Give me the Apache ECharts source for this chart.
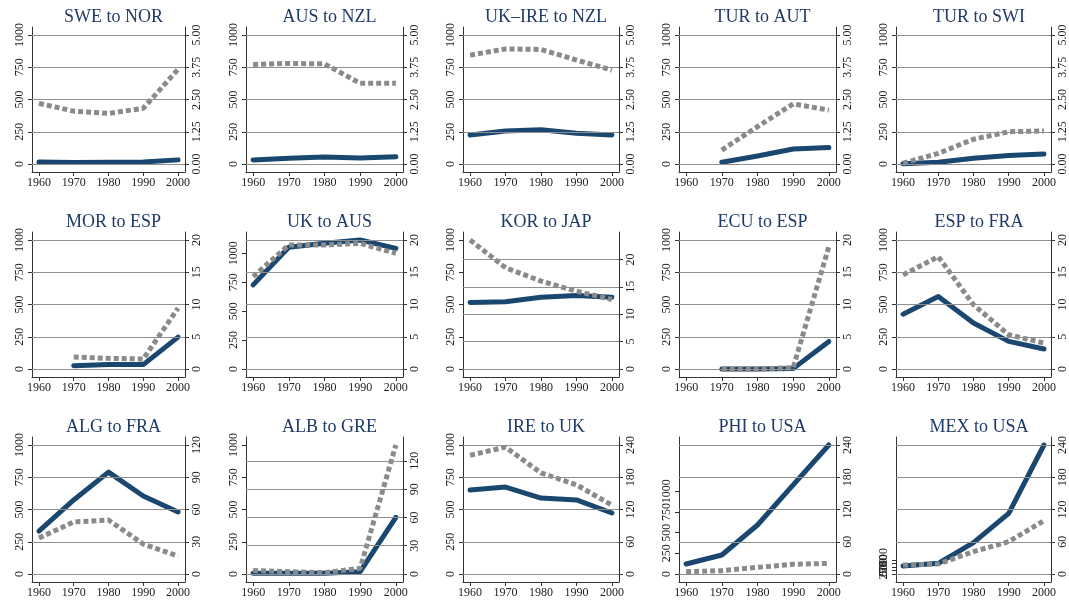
<!DOCTYPE html>
<html>
<head>
<meta charset="utf-8">
<script src="https://cdn.jsdelivr.net/npm/echarts@6/dist/echarts.min.js"></script>
<style>
html,body{margin:0;padding:0;background:#fff;}
#chart{width:1069px;height:603px;}
</style>
</head>
<body>
<div id="chart"></div>
<script>
// ---- data ----
const years = [1960, 1970, 1980, 1990, 2000];
const leftTicks = [0, 250, 500, 750, 1000];
const rightTicksA = [0, 1.25, 2.5, 3.75, 5];
const rightTicksB = [0, 5, 10, 15, 20];
const rightTicksC = [0, 30, 60, 90, 120];
const rightTicksD = [0, 60, 120, 180, 240];

const titles = ['SWE to NOR', 'AUS to NZL', 'UK\u2013IRE to NZL', 'TUR to AUT', 'TUR to SWI',
                'MOR to ESP', 'UK to AUS', 'KOR to JAP', 'ECU to ESP', 'ESP to FRA',
                'ALG to FRA', 'ALB to GRE', 'IRE to UK', 'PHI to USA', 'MEX to USA'];

const sweNorStock = [15, 12, 13, 16, 32];
const sweNorRate  = [2.35, 2.05, 1.96, 2.16, 3.67];
const ausNzlStock = [31, 44, 54, 47, 57];
const ausNzlRate  = [3.86, 3.90, 3.88, 3.13, 3.13];
const ukIreNzlStock = [225, 256, 266, 238, 225];
const ukIreNzlRate  = [4.22, 4.46, 4.44, 4.03, 3.64];
const turAutStock = [null, 13, 62, 116, 127];
const turAutRate  = [null, 0.54, 1.45, 2.33, 2.09];
const turSwiStock = [2, 13, 44, 65, 78];
const turSwiRate  = [0.03, 0.41, 0.96, 1.25, 1.28];

const morEspStock = [null, 26, 34, 34, 247];
const morEspRate  = [null, 1.86, 1.65, 1.55, 9.43];
const ukAusStock = [727, 1052, 1086, 1115, 1043];
const ukAusRate  = [14.33, 19.23, 19.23, 19.48, 17.94];
const korJapStock = [515, 521, 557, 570, 557];
const korJapRate  = [23.54, 18.48, 16.04, 14.2, 12.68];
const ecuEspStock = [null, 0, 0, 3, 214];
const ecuEspRate  = [null, 0, 0, 0.2, 18.97];
const espFraStock = [425, 562, 356, 214, 155];
const espFraRate  = [14.59, 17.42, 9.95, 5.31, 4.02];

const algFraStock = [333, 574, 790, 605, 481];
const algFraRate  = [33.5, 48.4, 50.2, 27.9, 16.7];
const albGreStock = [5, 5, 5, 18, 439];
const albGreRate  = [3.6, 2.5, 1.4, 6.1, 136.8];
const ireUkStock = [651, 674, 589, 574, 473];
const ireUkRate  = [221, 236, 188, 166, 128];
const phiUsaStock = [121, 230, 593, 1077, 1560];
const phiUsaRate  = [4.3, 6.2, 12.4, 18, 19.8];
const mexUsaStock = [571, 759, 2235, 4328, 9200];
const mexUsaRate  = [16.7, 18.6, 41.6, 60.2, 99.2];

const stocks = [sweNorStock, ausNzlStock, ukIreNzlStock, turAutStock, turSwiStock,
                morEspStock, ukAusStock, korJapStock, ecuEspStock, espFraStock,
                algFraStock, albGreStock, ireUkStock, phiUsaStock, mexUsaStock];
const rates = [sweNorRate, ausNzlRate, ukIreNzlRate, turAutRate, turSwiRate,
               morEspRate, ukAusRate, korJapRate, ecuEspRate, espFraRate,
               algFraRate, albGreRate, ireUkRate, phiUsaRate, mexUsaRate];
const rightTicks = [rightTicksA, rightTicksA, rightTicksA, rightTicksA, rightTicksA,
                    rightTicksB, rightTicksB, rightTicksB, rightTicksB, rightTicksB,
                    rightTicksC, rightTicksC, rightTicksD, rightTicksD, rightTicksD];

// ---- layout ----
const cols = [[32, 185], [246, 403], [463, 619], [679, 836], [896, 1052]];
const rowTops = [27, 232, 437];
const gridH = 145;
const padPx = 8;
const dataPx = gridH - 2 * padPx;

const NAVY = '#1a476f';
const GRAY = '#8a8a8a';
const FONT = 'Liberation Serif';
const labelStyle = {fontFamily: FONT, fontSize: 12, color: '#222',
                    hideOverlap: false, showMinLabel: true, showMaxLabel: true};
const axisLineStyle = {color: '#333', width: 1};

const grids = [], xAxes = [], yAxes = [], series = [], titleArr = [];

for (let i = 0; i < 15; i++) {
  const r = Math.floor(i / 5), c = i % 5;
  const [x0, x1] = cols[c];
  const top = rowTops[r];
  grids.push({left: x0, top: top, width: x1 - x0, height: gridH, containLabel: false});
  titleArr.push({
    text: titles[i], left: (x0 + x1) / 2, top: top - 24, textAlign: 'center',
    textStyle: {fontFamily: FONT, fontSize: 18, fontWeight: 'normal', color: '#1f3a68'}
  });
  const vals = (a) => a.filter(v => v !== null);
  const dL = Math.max(leftTicks[leftTicks.length - 1], ...vals(stocks[i]));
  const rt = rightTicks[i];
  const dR = Math.max(rt[rt.length - 1], ...vals(rates[i]));
  const pL = dL * padPx / dataPx, pR = dR * padPx / dataPx;
  const dec = rt === rightTicksA ? 2 : 0;

  xAxes.push({
    type: 'value', gridIndex: i, min: 1958, max: 2002,
    axisLine: {show: true, onZero: false, lineStyle: axisLineStyle},
    axisTick: {show: true, length: 4, customValues: years, lineStyle: {color: '#333'}},
    axisLabel: Object.assign({customValues: years, margin: 5, formatter: v => String(v)}, labelStyle),
    splitLine: {show: false}
  });

  // left axis: if labels are crowded, each tick gets its own overlaid axis so none is dropped
  const groups = dL > 1200 ? leftTicks.map(v => [v]) : [leftTicks];
  const leftIdx = yAxes.length;
  groups.forEach((g, gi) => {
    yAxes.push({
      type: 'value', gridIndex: i, position: 'left', min: -pL, max: dL + pL,
      axisLine: {show: gi === 0, onZero: false, lineStyle: axisLineStyle},
      axisTick: {show: true, length: 4, customValues: g, lineStyle: {color: '#333'}},
      axisLabel: Object.assign({customValues: g, rotate: 90, margin: 6, formatter: v => String(Math.round(v))}, labelStyle),
      splitLine: {show: false}
    });
  });
  const rightIdx = yAxes.length;
  yAxes.push({
    type: 'value', gridIndex: i, position: 'right', min: -pR, max: dR + pR,
    axisLine: {show: true, onZero: false, lineStyle: axisLineStyle},
    axisTick: {show: true, length: 4, customValues: rt, lineStyle: {color: '#333'}},
    axisLabel: Object.assign({customValues: rt, rotate: 90, margin: 6, formatter: v => v.toFixed(dec)}, labelStyle),
    splitLine: {show: false}
  });
  // gridlines at right-axis ticks
  series.push({
    type: 'line', xAxisIndex: i, yAxisIndex: rightIdx, z: 1,
    data: years.map((y, k) => [y, rates[i][k]]),
    symbol: 'none', lineStyle: {opacity: 0}, silent: true,
    markLine: {
      silent: true, symbol: ['none', 'none'], label: {show: false},
      lineStyle: {type: 'solid', color: '#8f8f8f', width: 1},
      data: rt.map(v => ({yAxis: v}))
    }
  });
  series.push({
    type: 'line', xAxisIndex: i, yAxisIndex: leftIdx, z: 3,
    data: years.map((y, k) => [y, stocks[i][k]]),
    symbol: 'none', connectNulls: false,
    lineStyle: {color: NAVY, width: 5, cap: 'round', join: 'round'}
  });
  series.push({
    type: 'line', xAxisIndex: i, yAxisIndex: rightIdx, z: 4,
    data: years.map((y, k) => [y, rates[i][k]]),
    symbol: 'none', connectNulls: false,
    lineStyle: {color: GRAY, width: 5, type: [5, 3], cap: 'butt'}
  });
}

const chart = echarts.init(document.getElementById('chart'), null, {renderer: 'canvas'});
chart.setOption({
  animation: false,
  backgroundColor: '#fff',
  title: titleArr,
  grid: grids,
  xAxis: xAxes,
  yAxis: yAxes,
  series: series
});
</script>
</body>
</html>
